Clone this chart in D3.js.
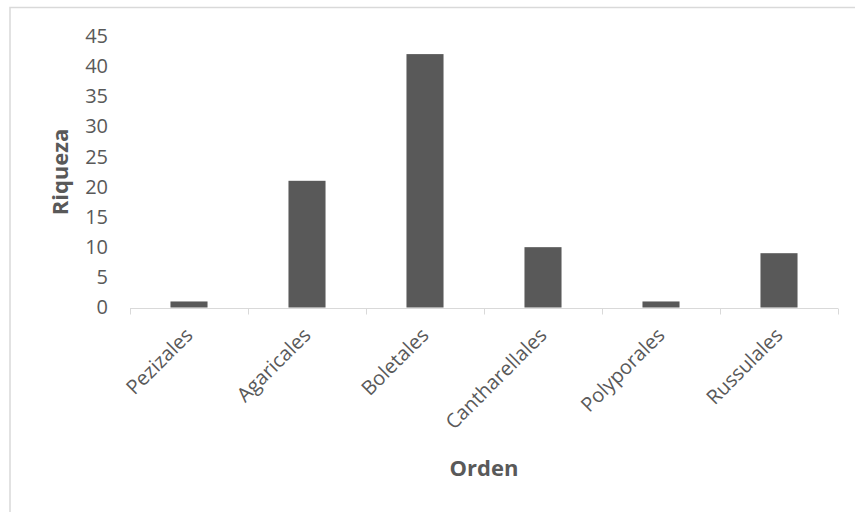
<!DOCTYPE html>
<html>
<head>
<meta charset="utf-8">
<script src="https://cdn.jsdelivr.net/npm/d3@7"></script>
<style>
  html, body { margin: 0; padding: 0; background: #fff; }
  svg { display: block; }
  text { font-family: "Open Sans", "Noto Sans", sans-serif; fill: #595959; }
</style>
</head>
<body>
<script>
// Riqueza de especies por orden
const categories = ["Pezizales", "Agaricales", "Boletales", "Cantharellales", "Polyporales", "Russulales"];
const values = [1, 21, 42, 10, 1, 9];
const yTicks = [0, 5, 10, 15, 20, 25, 30, 35, 40, 45];
const xTitle = "Orden";
const yTitle = "Riqueza";

const W = 855, H = 512;
const plot = { left: 130, right: 838, top: 36, bottom: 307.5 };

const svg = d3.select("body").append("svg").attr("width", W).attr("height", H);

// outer chart frame (continues past the right and bottom edges of the page)
svg.append("rect")
  .attr("x", 10).attr("y", 7.5)
  .attr("width", 860).attr("height", 520)
  .attr("fill", "#fff").attr("stroke", "#d9d9d9").attr("stroke-width", 1.5);

const x = d3.scaleBand().domain(categories).range([plot.left, plot.right])
  .paddingInner(0.686).paddingOuter(0.343);
const xTickScale = d3.scaleBand().domain(categories).range([plot.left, plot.right]);
const y = d3.scaleLinear().domain([0, 45]).range([plot.bottom, plot.top]);

// bars
svg.append("g").selectAll("rect").data(categories).join("rect")
  .attr("x", d => x(d))
  .attr("width", x.bandwidth())
  .attr("y", (d, i) => y(values[i]))
  .attr("height", (d, i) => y(0) - y(values[i]))
  .attr("fill", "#595959");

// y axis labels (no axis line)
const yAxis = d3.axisLeft(y).tickValues(yTicks).tickSize(0).tickPadding(0);
const gy = svg.append("g").attr("transform", "translate(108,0)").call(yAxis);
gy.select(".domain").remove();
gy.selectAll("text").style("font-size", "20px").attr("fill", "#595959")
  .style("font-family", "'Open Sans', sans-serif");

// x axis line with tick marks at category boundaries
const axisY = Math.round(plot.bottom) + 0.5;
svg.append("line").attr("x1", plot.left).attr("x2", plot.right)
  .attr("y1", axisY).attr("y2", axisY).attr("stroke", "#d9d9d9").attr("stroke-width", 1);
const bounds = categories.map(c => xTickScale(c)).concat([plot.right]);
svg.append("g").selectAll("line").data(bounds).join("line")
  .attr("x1", d => Math.round(d) + 0.5).attr("x2", d => Math.round(d) + 0.5)
  .attr("y1", axisY).attr("y2", axisY + 6)
  .attr("stroke", "#d9d9d9").attr("stroke-width", 1);

// category labels, rotated
svg.append("g").selectAll("text").data(categories).join("text")
  .attr("transform", d => `translate(${xTickScale(d) + xTickScale.bandwidth() / 2},${axisY + 23}) rotate(-45)`)
  .attr("text-anchor", "end")
  .attr("dy", "0.35em")
  .style("font-size", "20px")
  .text(d => d);

// axis titles
svg.append("text")
  .attr("transform", `translate(68,172) rotate(-90)`)
  .attr("text-anchor", "middle")
  .style("font-size", "22px").style("font-weight", "bold")
  .text(yTitle);

svg.append("text")
  .attr("x", 484).attr("y", 476)
  .attr("text-anchor", "middle")
  .style("font-size", "22px").style("font-weight", "bold")
  .text(xTitle);
</script>
</body>
</html>
